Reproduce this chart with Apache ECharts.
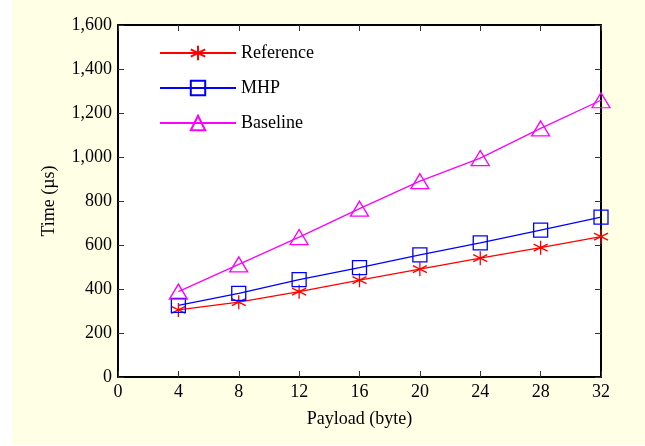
<!DOCTYPE html>
<html>
<head>
<meta charset="utf-8">
<script src="https://cdn.jsdelivr.net/npm/echarts@6/dist/echarts.min.js"></script>
<style>
  html, body { margin: 0; padding: 0; background: #ffffff; }
  #chart { width: 645px; height: 446px; }
</style>
</head>
<body>
<div id="chart"></div>
<script>
// Payload sizes (bytes) and measured times (µs)
const payloads = [4, 8, 12, 16, 20, 24, 28, 32];
const referenceTimes = [305, 340, 388, 440, 490, 540, 588, 638];
const mhpTimes = [326, 380, 443, 497, 555, 610, 668, 727];
const baselineTimes = [388, 512, 636, 765, 890, 995, 1130, 1258];

const seriesNames = ['Reference', 'MHP', 'Baseline'];
const seriesColors = ['#ff0000', '#0000ff', '#ff00ff'];

// six-armed asterisk marker
const asterisk = 'path://M0,-1L0,1M-0.866,-0.5L0.866,0.5M-0.866,0.5L0.866,-0.5';

const font = 'Liberation Serif, Times New Roman, serif';

function pairs(vals) {
  return payloads.map((p, i) => [p, vals[i]]);
}

function makeSeries(name, vals, color, symbol, size) {
  return {
    name: name,
    type: 'line',
    data: pairs(vals),
    symbol: symbol,
    symbolSize: size,
    showAllSymbol: true,
    lineStyle: { color: color, width: 1.3 },
    itemStyle: { color: 'rgba(0,0,0,0)', borderColor: color, borderWidth: 1.3 },
    emphasis: { disabled: true },
    animation: false,
    z: 3
  };
}

const chart = echarts.init(document.getElementById('chart'), null, { renderer: 'canvas' });

const tickStyle = { show: true, inside: true, length: 6, lineStyle: { color: '#333', width: 1 } };
const frameLine = { show: true, onZero: false, lineStyle: { color: '#000', width: 2 } };

chart.setOption({
  backgroundColor: 'transparent',
  animation: false,
  graphic: [{
    type: 'rect',
    shape: { x: 12, y: 0, width: 633, height: 445 },
    style: { fill: '#ffffe6' },
    z: -10
  }],
  grid: {
    left: 118, top: 25, right: 44, bottom: 69,
    show: true, backgroundColor: '#ffffff', borderWidth: 0
  },
  legend: {
    orient: 'vertical',
    left: 159, top: 44,
    padding: 0,
    itemWidth: 76, itemHeight: 18,
    itemGap: 17,
    data: seriesNames,
    textStyle: { fontFamily: font, fontSize: 18, color: '#000' },
    selectedMode: false
  },
  xAxis: [{
    type: 'value', min: 0, max: 32, interval: 4,
    name: 'Payload (byte)', nameLocation: 'middle', nameGap: 33,
    nameTextStyle: { fontFamily: font, fontSize: 18, color: '#000' },
    axisLine: frameLine, axisTick: tickStyle,
    axisLabel: { fontFamily: font, fontSize: 18, color: '#000', margin: 6 },
    splitLine: { show: false }
  }, {
    type: 'value', min: 0, max: 32, interval: 4, position: 'top',
    axisLine: frameLine, axisTick: tickStyle,
    axisLabel: { show: false }, splitLine: { show: false }
  }],
  yAxis: [{
    type: 'value', min: 0, max: 1600, interval: 200,
    name: 'Time (µs)', nameLocation: 'middle', nameGap: 60, nameRotate: 90,
    nameTextStyle: { fontFamily: font, fontSize: 18, color: '#000' },
    axisLine: frameLine, axisTick: tickStyle,
    axisLabel: {
      fontFamily: font, fontSize: 18, color: '#000', margin: 6,
      formatter: v => v.toLocaleString('en-US')
    },
    splitLine: { show: false }
  }, {
    type: 'value', min: 0, max: 1600, interval: 200, position: 'right',
    axisLine: frameLine, axisTick: tickStyle,
    axisLabel: { show: false }, splitLine: { show: false }
  }],
  series: [
    makeSeries(seriesNames[0], referenceTimes, seriesColors[0], asterisk, 14),
    makeSeries(seriesNames[1], mhpTimes, seriesColors[1], 'rect', 14),
    makeSeries(seriesNames[2], baselineTimes, seriesColors[2], 'triangle', [18, 15])
  ]
});
</script>
</body>
</html>
